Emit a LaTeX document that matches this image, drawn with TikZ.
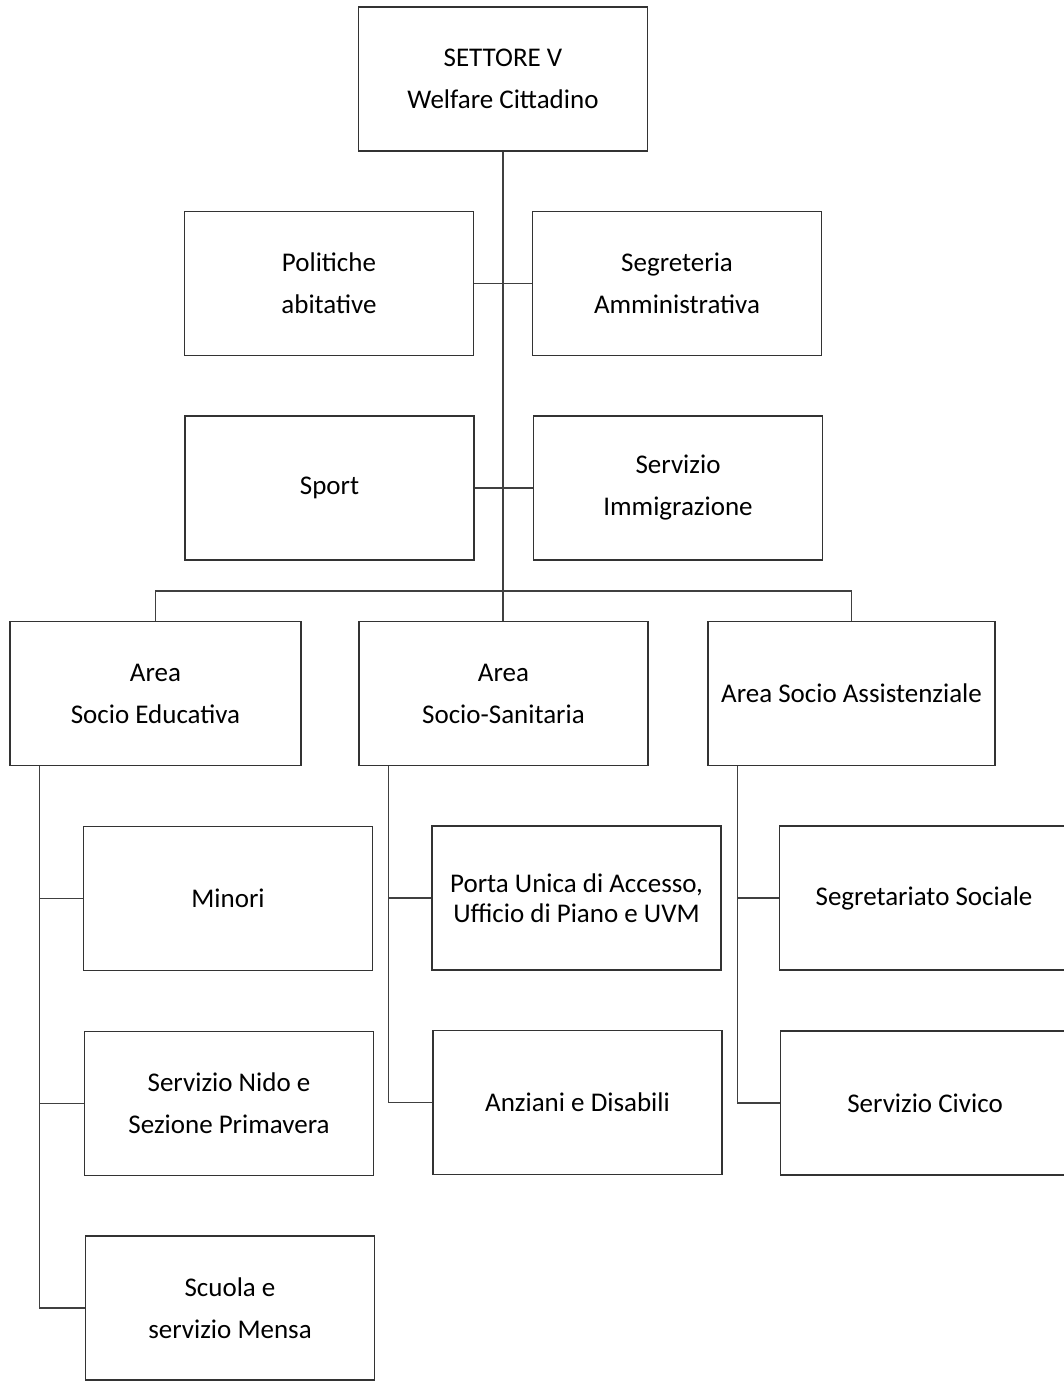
\documentclass[tikz,border=0pt]{standalone}
\usepackage{fontspec}
\setmainfont{Carlito}
\usetikzlibrary{calc}
\begin{document}
\begin{tikzpicture}[x=1pt,y=-1pt,
  box/.style={draw=black!80,line width=1.5pt,minimum width=289pt,minimum height=144pt,
    inner sep=0pt,align=center,font=\fontsize{27}{42}\selectfont,text=black},
  tight/.style={font=\fontsize{27}{30}\selectfont},
  link/.style={draw=black!75,line width=1.5pt}]
\useasboundingbox (0,0) rectangle (1064,1383);
\clip (0,0) rectangle (1064,1383);
\fill[white] (0,0) rectangle (1064,1383);
% nodes
\node[box] (top) at (503,79) {SETTORE V\\Welfare Cittadino};
\node[box] (pol) at (329,283.5) {Politiche\\abitative};
\node[box] (seg) at (677,283.5) {Segreteria\\Amministrativa};
\node[box] (sport) at (329.5,488) {Sport};
\node[box] (imm) at (678,488) {Servizio\\Immigrazione};
\node[box,minimum width=291pt] (ase) at (155.5,693.5) {Area\\Socio Educativa};
\node[box] (ass) at (503.5,693.5) {Area\\Socio-Sanitaria};
\node[box,minimum width=287pt] (asa) at (851.5,693.5) {Area Socio Assistenziale};
\node[box] (min) at (228,898.5) {Minori};
\node[box] (nido) at (229,1103.5) {Servizio Nido e\\Sezione Primavera};
\node[box] (scu) at (230,1308) {Scuola e\\servizio Mensa};
\node[box,tight] (porta) at (576.5,898) {Porta Unica di Accesso,\\Ufficio di Piano e UVM};
\node[box] (anz) at (577.5,1102.5) {Anziani e Disabili};
\node[box] (segsoc) at (924,898) {Segretariato Sociale};
\node[box] (civ) at (925,1103) {Servizio Civico};
% connectors
\coordinate (bus) at (503,591);
\draw[link] (top.south) -- (bus);
\draw[link] (pol.east) -- (seg.west);
\draw[link] (sport.east) -- (imm.west);
\draw[link] (ase.north) |- (bus) -| (asa.north);
\draw[link] (bus) -- (bus |- ass.north);
\coordinate (l0) at ($(ase.south west)+(30,0)$);
\coordinate (m0) at ($(ass.south west)+(30,0)$);
\coordinate (r0) at ($(asa.south west)+(30,0)$);
\draw[link] (l0) |- (scu.west);
\draw[link] (l0) |- (min.west);
\draw[link] (l0) |- (nido.west);
\draw[link] (m0) |- (anz.west);
\draw[link] (m0) |- (porta.west);
\draw[link] (r0) |- (civ.west);
\draw[link] (r0) |- (segsoc.west);
\end{tikzpicture}
\end{document}
